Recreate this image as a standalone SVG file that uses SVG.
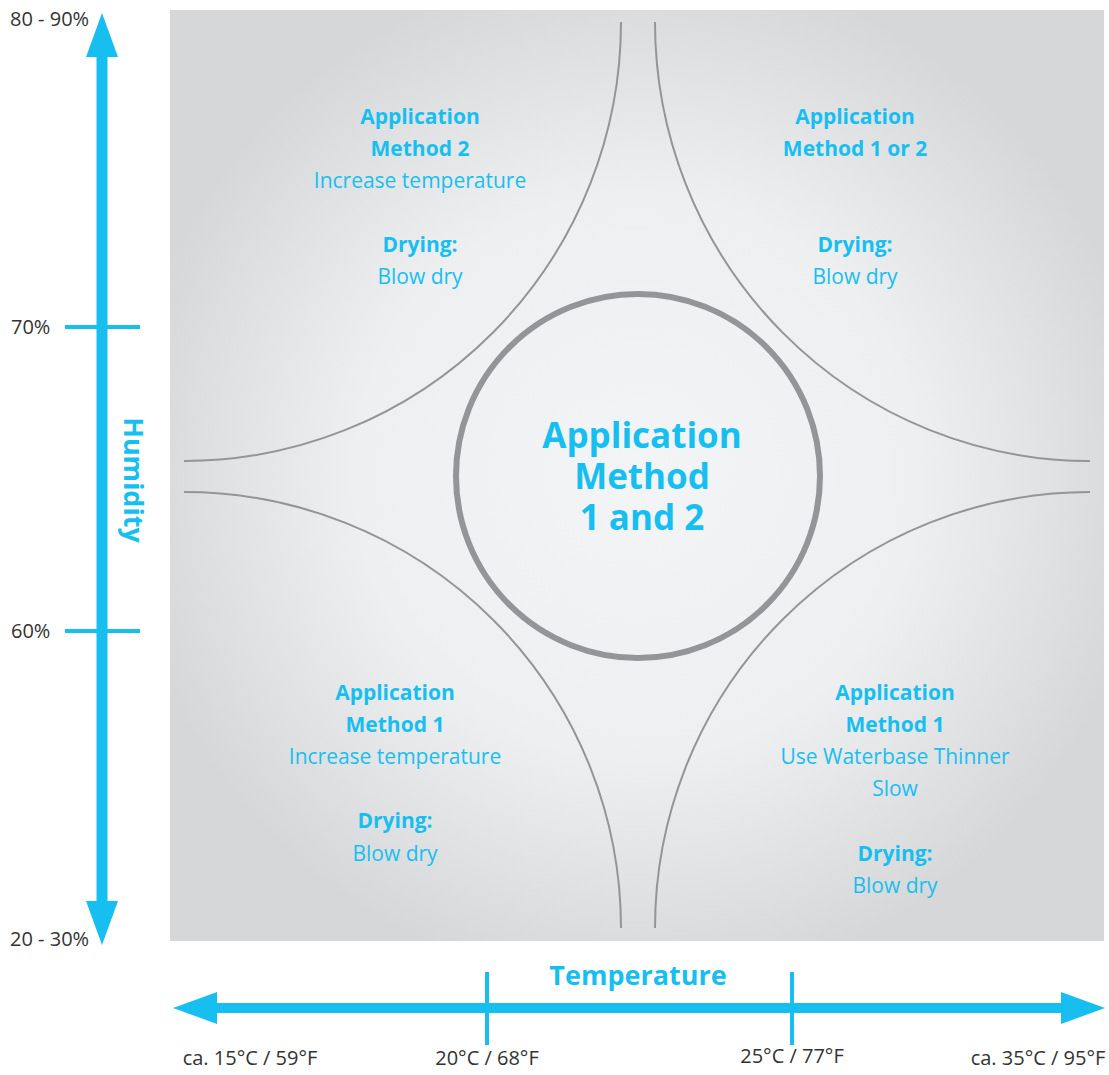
<svg xmlns="http://www.w3.org/2000/svg" width="1109" height="1075" viewBox="0 0 1109 1075">
<style>
.lbl{font-family:"Open Sans","Liberation Sans",sans-serif;fill:#17bff1;font-size:21px;text-anchor:middle}
.b{font-weight:bold}
.ax{font-family:"Open Sans","Liberation Sans",sans-serif;fill:#333333;font-size:20px}
.curve{fill:none;stroke:#939598;stroke-width:2}
.axis{stroke:#17bff1;fill:none}
.head{fill:#17bff1}
.big{font-size:35px}
.title{font-size:27px}
</style>
<defs>
<radialGradient id="bg" cx="50%" cy="50%" r="55%">
<stop offset="0" stop-color="#f3f4f6"/>
<stop offset="0.55" stop-color="#eeeff1"/>
<stop offset="1" stop-color="#d6d7d9"/>
</radialGradient>
</defs>
<rect x="170" y="10" width="934" height="931" fill="url(#bg)"/>
<g id="connectors">
<path class="curve" d="M621 22 A437 439 0 0 1 184 461"/>
<path class="curve" d="M655 22 A435 439 0 0 0 1090 461"/>
<path class="curve" d="M184 492 A437 436 0 0 1 621 928"/>
<path class="curve" d="M1090 492 A435 436 0 0 0 655 928"/>
</g>
<g id="humidity-axis">
<line class="axis" x1="102" y1="55" x2="102" y2="903" stroke-width="11"/>
<polygon class="head" points="102,13 118,57 86,57"/>
<polygon class="head" points="102,945 118,901 86,901"/>
<line class="axis" x1="65" y1="327" x2="140" y2="327" stroke-width="4"/>
<line class="axis" x1="65" y1="631" x2="140" y2="631" stroke-width="4"/>
<text class="ax" x="10" y="26">80 - 90%</text>
<text class="ax" x="11" y="334">70%</text>
<text class="ax" x="11" y="638">60%</text>
<text class="ax" x="10" y="946">20 - 30%</text>
<text class="lbl b title" transform="translate(124 480) rotate(90)">Humidity</text>
</g>
<g id="temperature-axis">
<line class="axis" x1="215" y1="1008" x2="1063" y2="1008" stroke-width="10"/>
<polygon class="head" points="173,1008 217,992 217,1024"/>
<polygon class="head" points="1105,1008 1061,992 1061,1024"/>
<line class="axis" x1="487" y1="972" x2="487" y2="1045" stroke-width="4"/>
<line class="axis" x1="792" y1="972" x2="792" y2="1045" stroke-width="4"/>
<text class="lbl b title" x="638" y="985">Temperature</text>
<text class="ax" x="250" y="1065" text-anchor="middle">ca. 15°C / 59°F</text>
<text class="ax" x="487" y="1065" text-anchor="middle">20°C / 68°F</text>
<text class="ax" x="792" y="1063" text-anchor="middle">25°C / 77°F</text>
<text class="ax" x="1038" y="1065" text-anchor="middle">ca. 35°C / 95°F</text>
</g>
<g id="center">
<circle cx="638" cy="476" r="182" fill="none" stroke="#939598" stroke-width="6"/>
<text class="lbl b big" x="642" y="448">Application</text>
<text class="lbl b big" x="642" y="489">Method</text>
<text class="lbl b big" x="642" y="530">1 and 2</text>
</g>
<g id="top-left">
<text class="lbl b" x="420" y="124">Application</text>
<text class="lbl b" x="420" y="156">Method 2</text>
<text class="lbl" x="420" y="188">Increase temperature</text>
<text class="lbl b" x="420" y="252">Drying:</text>
<text class="lbl" x="420" y="284">Blow dry</text>
</g>
<g id="top-right">
<text class="lbl b" x="855" y="124">Application</text>
<text class="lbl b" x="855" y="156">Method 1 or 2</text>
<text class="lbl b" x="855" y="252">Drying:</text>
<text class="lbl" x="855" y="284">Blow dry</text>
</g>
<g id="bottom-left">
<text class="lbl b" x="395" y="700">Application</text>
<text class="lbl b" x="395" y="732">Method 1</text>
<text class="lbl" x="395" y="764">Increase temperature</text>
<text class="lbl b" x="395" y="828">Drying:</text>
<text class="lbl" x="395" y="861">Blow dry</text>
</g>
<g id="bottom-right">
<text class="lbl b" x="895" y="700">Application</text>
<text class="lbl b" x="895" y="732">Method 1</text>
<text class="lbl" x="895" y="764">Use Waterbase Thinner</text>
<text class="lbl" x="895" y="796">Slow</text>
<text class="lbl b" x="895" y="861">Drying:</text>
<text class="lbl" x="895" y="893">Blow dry</text>
</g>
</svg>
